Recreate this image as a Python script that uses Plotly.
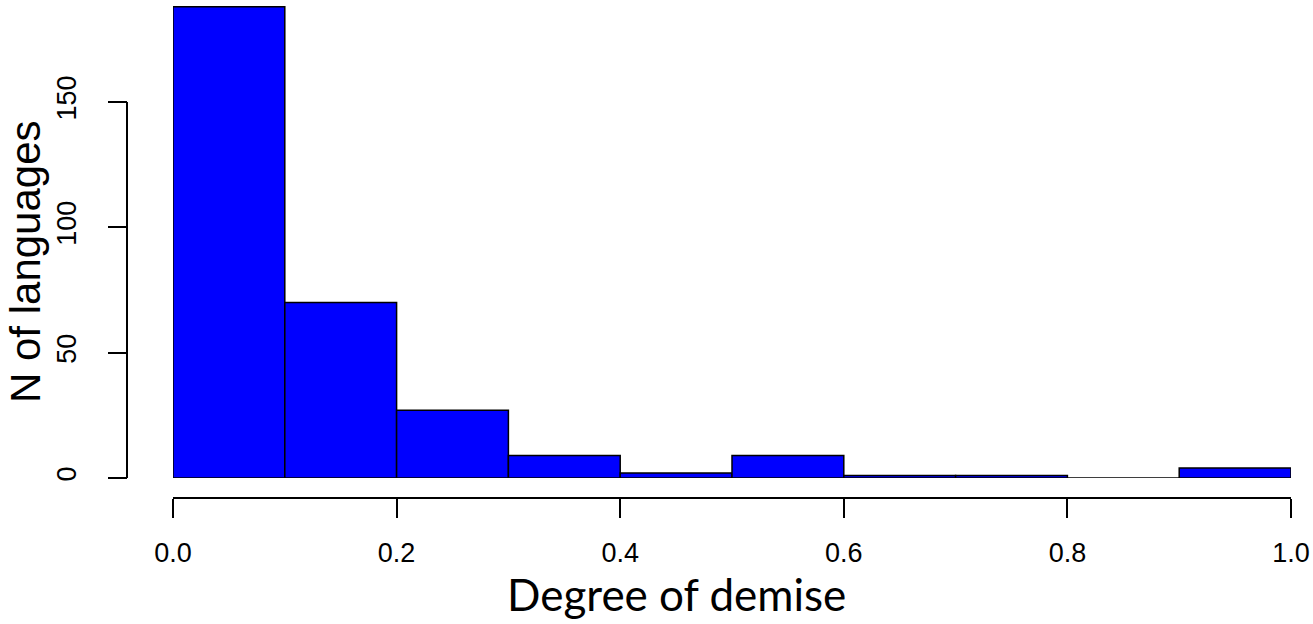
import plotly.graph_objects as go

# histogram of degree of demise, bins of width 0.1
bin_left = [0.0, 0.1, 0.2, 0.3, 0.4, 0.5, 0.6, 0.7, 0.8, 0.9]
counts = [188, 70, 27, 9, 2, 9, 1, 1, 0, 4]
bin_width = 0.1
x_ticks = [0.0, 0.2, 0.4, 0.6, 0.8, 1.0]
y_ticks = [0, 50, 100, 150]

W, H = 1313, 624
centers = [b + bin_width / 2 for b in bin_left]

fig = go.Figure(go.Bar(
    x=centers,
    y=counts,
    width=bin_width,
    marker=dict(color="#0000FF", line=dict(color="black", width=1.5)),
    cliponaxis=False,
    hoverinfo="x+y",
))

tickfont = dict(family="Liberation Sans, Arial, sans-serif", size=27, color="black")

fig.update_layout(
    width=W, height=H,
    margin=dict(l=0, r=0, t=0, b=0, autoexpand=False),
    plot_bgcolor="white",
    paper_bgcolor="white",
    showlegend=False,
    xaxis=dict(
        range=[0, 1],
        domain=[173 / W, 1291 / W],
        anchor="free",
        position=(H - 498) / H,
        automargin=False,
        showline=True, linecolor="black", linewidth=2,
        ticks="outside", ticklen=19, tickwidth=2, tickcolor="black",
        tickvals=x_ticks, tickformat=".1f",
        tickfont=tickfont, ticklabelstandoff=12,
        showgrid=False, zeroline=False,
    ),
    yaxis=dict(
        range=[0, 190.7],
        domain=[(H - 478) / H, 1],
        anchor="free",
        position=127 / W,
        automargin=False,
        showline=False,
        ticks="outside", ticklen=19, tickwidth=2, tickcolor="black",
        tickvals=y_ticks, tickangle=-90,
        tickfont=tickfont, ticklabelstandoff=21,
        showgrid=False, zeroline=False,
    ),
    shapes=[dict(
        type="line", xref="paper", yref="y",
        x0=127 / W, x1=127 / W, y0=y_ticks[0], y1=y_ticks[-1],
        line=dict(color="black", width=2),
    )],
    annotations=[
        dict(text="Degree of demise", xref="paper", yref="paper",
             x=676 / W, y=(H - 594) / H, showarrow=False,
             xanchor="center", yanchor="middle",
             font=dict(family="Lato, Open Sans, sans-serif", size=44, color="black")),
        dict(text="N of languages", xref="paper", yref="paper",
             x=26 / W, y=(H - 262) / H, showarrow=False, textangle=-90,
             xanchor="center", yanchor="middle",
             font=dict(family="Liberation Sans, Arial, sans-serif", size=42, color="black")),
    ],
)

fig.write_html("out.html", config={"displayModeBar": False},
               post_script="document.body.style.margin='0';")
